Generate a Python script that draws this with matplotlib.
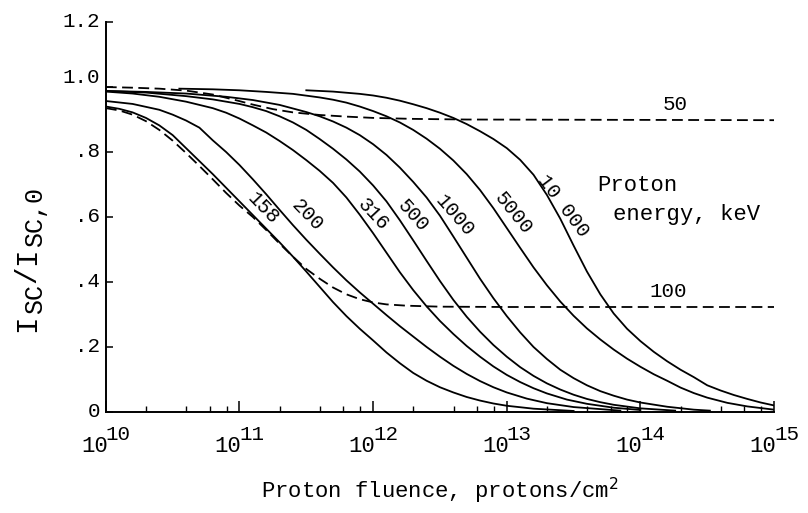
import numpy as np
import matplotlib.pyplot as plt
from matplotlib.ticker import FixedLocator, LogLocator, NullFormatter
from matplotlib.transforms import ScaledTranslation, blended_transform_factory

plt.rcParams['font.family'] = ['Liberation Mono', 'DejaVu Sans Mono']

# log10 of fluence and normalised short-circuit current, one pair per energy
e158_lf = [10.0, 10.1, 10.2, 10.3, 10.4, 10.5, 10.6, 10.7, 10.8, 10.9, 11.0, 11.1, 11.2, 11.3, 11.4,
           11.5, 11.6, 11.7, 11.8, 11.9, 12.0, 12.1, 12.2, 12.3, 12.4, 12.5, 12.6, 12.7, 12.8, 12.9,
           13.0, 13.2, 13.5]
e158_y = [0.94, 0.933, 0.922, 0.905, 0.882, 0.852, 0.812, 0.772, 0.732, 0.69, 0.648, 0.606, 0.564,
          0.522, 0.478, 0.432, 0.385, 0.338, 0.295, 0.256, 0.22, 0.183, 0.15, 0.12, 0.096, 0.076,
          0.06, 0.046, 0.035, 0.026, 0.019, 0.01, 0.003]

e200_lf = [10.0, 10.2, 10.4, 10.5, 10.6, 10.7, 10.8, 10.9, 11.0, 11.1, 11.2, 11.3, 11.4, 11.5, 11.6,
           11.7, 11.8, 11.9, 12.0, 12.1, 12.2, 12.3, 12.4, 12.5, 12.6, 12.7, 12.8, 12.9, 13.0, 13.15,
           13.3, 13.5, 13.85]
e200_y = [0.957, 0.948, 0.93, 0.915, 0.897, 0.875, 0.836, 0.80, 0.76, 0.716, 0.67, 0.622, 0.575,
          0.53, 0.487, 0.445, 0.405, 0.368, 0.333, 0.298, 0.264, 0.232, 0.20, 0.17, 0.142, 0.117,
          0.095, 0.076, 0.06, 0.041, 0.027, 0.015, 0.004]

e316_lf = [10.0, 10.2, 10.4, 10.6, 10.8, 10.9, 11.0, 11.1, 11.2, 11.3, 11.4, 11.5, 11.6, 11.7, 11.8,
           11.9, 12.0, 12.1, 12.2, 12.3, 12.4, 12.5, 12.6, 12.7, 12.8, 12.9, 13.0, 13.1, 13.2, 13.3,
           13.45, 13.6, 13.8, 14.0]
e316_y = [0.986, 0.98, 0.97, 0.955, 0.935, 0.921, 0.903, 0.882, 0.86, 0.834, 0.806, 0.775, 0.742,
          0.705, 0.66, 0.607, 0.55, 0.49, 0.43, 0.375, 0.325, 0.28, 0.24, 0.203, 0.17, 0.14, 0.114,
          0.092, 0.073, 0.057, 0.038, 0.025, 0.013, 0.006]

e500_lf = [10.0, 10.3, 10.6, 10.8, 11.0, 11.1, 11.2, 11.3, 11.4, 11.5, 11.6, 11.7, 11.8, 11.9, 12.0,
           12.1, 12.2, 12.3, 12.4, 12.5, 12.6, 12.7, 12.8, 12.9, 13.0, 13.1, 13.2, 13.3, 13.4, 13.5,
           13.6, 13.7, 13.8, 14.0, 14.26]
e500_y = [0.988, 0.983, 0.972, 0.962, 0.948, 0.938, 0.926, 0.91, 0.891, 0.868, 0.84, 0.81, 0.777,
          0.74, 0.697, 0.648, 0.59, 0.528, 0.465, 0.403, 0.345, 0.293, 0.247, 0.206, 0.17, 0.138,
          0.111, 0.088, 0.069, 0.053, 0.04, 0.03, 0.022, 0.011, 0.004]

e1000_lf = [10.0, 10.3, 10.6, 10.9, 11.1, 11.3, 11.5, 11.6, 11.7, 11.8, 11.9, 12.0, 12.1, 12.2, 12.3,
            12.4, 12.5, 12.6, 12.7, 12.8, 12.9, 13.0, 13.1, 13.2, 13.3, 13.4, 13.5, 13.6, 13.7, 13.8,
            13.9, 14.0, 14.2, 14.4, 14.52]
e1000_y = [0.988, 0.985, 0.98, 0.97, 0.96, 0.945, 0.923, 0.91, 0.894, 0.875, 0.852, 0.824, 0.791,
           0.752, 0.708, 0.66, 0.604, 0.54, 0.475, 0.41, 0.35, 0.295, 0.245, 0.20, 0.163, 0.13,
           0.104, 0.082, 0.064, 0.05, 0.038, 0.029, 0.016, 0.007, 0.004]

e5000_lf = [10.55, 10.8, 11.0, 11.2, 11.4, 11.6, 11.7, 11.8, 11.9, 12.0, 12.1, 12.2, 12.3, 12.4, 12.5,
            12.6, 12.7, 12.8, 12.9, 13.0, 13.1, 13.2, 13.3, 13.4, 13.5, 13.6, 13.7, 13.8, 13.9, 14.0,
            14.1, 14.2, 14.3, 14.4, 14.5, 14.65, 14.8, 15.0]
e5000_y = [0.995, 0.993, 0.99, 0.985, 0.979, 0.968, 0.961, 0.952, 0.94, 0.926, 0.91, 0.891, 0.868,
           0.841, 0.81, 0.774, 0.732, 0.683, 0.627, 0.566, 0.505, 0.445, 0.39, 0.34, 0.296, 0.257,
           0.223, 0.192, 0.164, 0.139, 0.116, 0.096, 0.075, 0.058, 0.044, 0.028, 0.017, 0.007]

e10000_lf = [11.5, 11.7, 11.9, 12.0, 12.1, 12.2, 12.3, 12.4, 12.5, 12.6, 12.7, 12.8, 12.9, 13.0, 13.1,
             13.2, 13.3, 13.4, 13.5, 13.6, 13.7, 13.8, 13.9, 14.0, 14.1, 14.2, 14.3, 14.4, 14.5, 14.6,
             14.7, 14.8, 14.9, 15.0]
e10000_y = [0.99, 0.986, 0.979, 0.974, 0.967, 0.958, 0.947, 0.935, 0.921, 0.905, 0.886, 0.864, 0.84,
            0.812, 0.776, 0.73, 0.668, 0.595, 0.512, 0.432, 0.362, 0.303, 0.256, 0.218, 0.185, 0.156,
            0.13, 0.107, 0.082, 0.066, 0.052, 0.04, 0.029, 0.02]

# low energies level off (dashed)
e50_lf = [10.0, 10.2, 10.4, 10.6, 10.8, 10.95, 11.1, 11.25, 11.4, 11.6, 11.8, 12.0, 12.3, 12.7, 15.0]
e50_y = [1.0, 0.998, 0.995, 0.989, 0.977, 0.962, 0.946, 0.932, 0.922, 0.914, 0.909, 0.905, 0.902,
         0.90, 0.898]

e100_lf = [10.0, 10.1, 10.2, 10.3, 10.4, 10.5, 10.6, 10.7, 10.8, 10.9, 11.0, 11.1, 11.2, 11.3, 11.4,
           11.5, 11.6, 11.7, 11.8, 11.9, 12.0, 12.1, 12.25, 12.5, 13.0, 15.0]
e100_y = [0.935, 0.928, 0.915, 0.895, 0.868, 0.835, 0.797, 0.757, 0.716, 0.674, 0.635, 0.60, 0.56,
          0.518, 0.478, 0.44, 0.41, 0.383, 0.362, 0.347, 0.337, 0.331, 0.327, 0.324, 0.323, 0.323]

solid = [("158", e158_lf, e158_y, 11.18, 0.628, -46),
         ("200", e200_lf, e200_y, 11.51, 0.606, -46),
         ("316", e316_lf, e316_y, 12.0, 0.606, -47),
         ("500", e500_lf, e500_y, 12.30, 0.603, -48),
         ("1000", e1000_lf, e1000_y, 12.61, 0.603, -49),
         ("5000", e5000_lf, e5000_y, 13.05, 0.612, -51),
         ("10 000", e10000_lf, e10000_y, 13.42, 0.634, -53)]
dashed = [("50", e50_lf, e50_y, 14.26, 0.945),
          ("100", e100_lf, e100_y, 14.21, 0.37)]

decades = [10, 11, 12, 13, 14, 15]

fig = plt.figure(figsize=(8.08, 5.13), dpi=100)
ax = fig.add_axes([0.131, 0.197, 0.827, 0.760])

for name, lf, y, tx, ty, rot in solid:
    ax.plot(10.0 ** np.array(lf), y, color="black", lw=1.3)
    ax.text(10.0 ** tx, ty, name, fontsize=14.5, rotation=rot, rotation_mode="anchor",
            ha="center", va="center")

for name, lf, y, tx, ty in dashed:
    ax.plot(10.0 ** np.array(lf), y, color="black", lw=1.3, linestyle=(0, (6, 3)))
    ax.text(10.0 ** tx, ty, name, fontsize=15, ha="center", va="center")

ax.text(10.0 ** 13.675, 0.698, "Proton", fontsize=16, va="center", ha="left")
ax.text(10.0 ** 13.795, 0.609, "energy, keV", fontsize=16, va="center", ha="left")

ax.set_xscale("log")
ax.set_xlim(1e10, 1e15)
ax.set_ylim(0, 1.2)

ax.xaxis.set_major_locator(FixedLocator([10.0 ** n for n in decades]))
ax.xaxis.set_major_formatter(NullFormatter())
ax.xaxis.set_minor_locator(LogLocator(base=10, subs=(2, 4, 6, 8)))
ax.xaxis.set_minor_formatter(NullFormatter())

# decade labels: base left of the tick, exponent right of it
xt = blended_transform_factory(ax.transData, ax.transAxes)
for n in decades:
    ax.annotate("10", (10.0 ** n, 0), xycoords=xt, xytext=(1.5, -29), textcoords="offset points",
                ha="right", va="baseline", fontsize=16, annotation_clip=False)
    ax.annotate(str(n), (10.0 ** n, 0), xycoords=xt, xytext=(0, -20), textcoords="offset points",
                ha="left", va="baseline", fontsize=15, annotation_clip=False)

ax.set_yticks([0, 0.2, 0.4, 0.6, 0.8, 1.0, 1.2])
ax.set_yticklabels(["0", ".2", ".4", ".6", ".8", "1.0", "1.2"])

ax.tick_params(axis="x", which="major", direction="in", length=8, width=1.1)
ax.tick_params(axis="x", which="minor", direction="in", length=4, width=1.0)
ax.tick_params(axis="y", which="major", direction="in", length=5, width=1.1, labelsize=15, pad=4)

for lab in ax.get_yticklabels():
    up = 8 if lab.get_text() == "1.0" else 2
    lab.set_transform(lab.get_transform() + ScaledTranslation(0, up / 72, fig.dpi_scale_trans))

for side in ["top", "right"]:
    ax.spines[side].set_visible(False)
for side in ["left", "bottom"]:
    ax.spines[side].set_linewidth(1.4)

ax.set_xlabel(r"Proton fluence, protons/cm$^{2}$", fontsize=16)
ax.xaxis.set_label_coords(0.5, -0.165)

# I_SC / I_SC,0 written upward, subscripts dropped toward the baseline side
ylab = [("I", 21, 35, 332), ("SC", 18, 42, 314), ("/", 21, 35, 283), ("I", 21, 35, 265),
        ("SC,0", 18, 42, 247)]
for s, size, bx, py in ylab:
    fig.text(bx / 808, 1 - py / 513, s, fontsize=size, rotation=90, rotation_mode="anchor",
             ha="left", va="baseline")

fig.savefig("out.png", dpi=100)
